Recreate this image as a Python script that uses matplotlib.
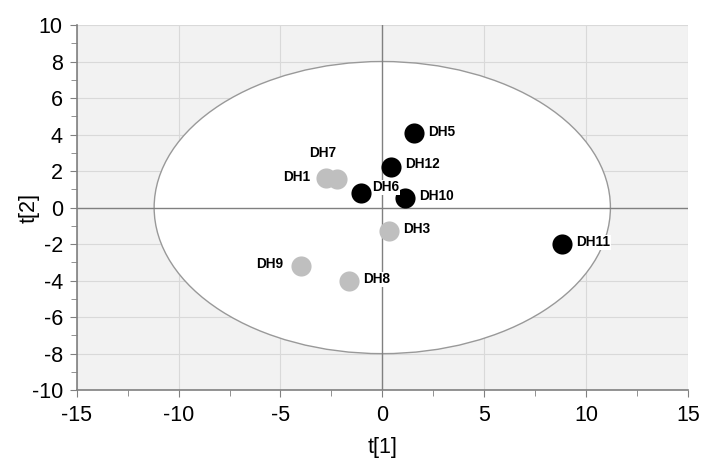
import numpy as np
import matplotlib.pyplot as plt
from matplotlib.patches import Ellipse

plt.rcParams['font.family'] = ['Liberation Sans', 'DejaVu Sans']

# scores
names = ['DH1', 'DH7', 'DH9', 'DH8', 'DH3', 'DH6', 'DH12', 'DH10', 'DH5', 'DH11']
t1 = [-2.78, -2.23, -4.0, -1.63, 0.32, -1.02, 0.45, 1.14, 1.55, 8.8]
t2 = [1.63, 1.56, -3.2, -4.04, -1.27, 0.78, 2.2, 0.5, 4.07, -2.02]
group = ['g', 'g', 'g', 'g', 'g', 'b', 'b', 'b', 'b', 'b']
# label offsets in pixels (dx, dy) and alignment
offsets = {'DH1': (-15, 1, 'right'), 'DH7': (-28, 26, 'left'), 'DH9': (-18, 2, 'right'),
           'DH8': (14, 2, 'left'), 'DH3': (14, 2, 'left'), 'DH6': (11, 6, 'left'),
           'DH12': (14, 3, 'left'), 'DH10': (14, 2, 'left'), 'DH5': (14, 1, 'left'),
           'DH11': (15, 2, 'left')}

ell_a = 11.2
ell_b = 8.0

fig = plt.figure(figsize=(7.04, 4.59), dpi=100)
ax = fig.add_axes([0.109, 0.150, 0.868, 0.7955])
ax.set_facecolor('#f2f2f2')
ax.add_patch(Ellipse((0, 0), 2 * ell_a, 2 * ell_b, facecolor='white', edgecolor='#999999', lw=1.0, zorder=1.5))

ax.set_xlim(-15, 15)
ax.set_ylim(-10, 10)
ax.set_xticks(np.arange(-15, 16, 5))
ax.set_yticks(np.arange(-10, 11, 2))
ax.set_xticks(np.arange(-15, 16, 2.5), minor=True)
ax.set_yticks(np.arange(-10, 11, 1), minor=True)
ax.grid(True, which='major', color='#d9d9d9', lw=0.8, zorder=1)
ax.set_axisbelow(True)
ax.axhline(0, color='#808080', lw=1.0, zorder=2)
ax.axvline(0, color='#808080', lw=1.0, zorder=2)

for s in ['top', 'right']:
    ax.spines[s].set_visible(False)
for s in ['left', 'bottom']:
    ax.spines[s].set_color('#808080')
    ax.spines[s].set_linewidth(1.2)
ax.tick_params(which='both', direction='out', color='#808080', labelsize=15.5)
ax.tick_params(which='major', length=5)
ax.tick_params(which='minor', length=4)
ax.tick_params(axis='y', pad=5)
ax.tick_params(axis='x', pad=6)
ax.set_xticklabels([str(v) for v in range(-15, 16, 5)])
ax.set_yticklabels([str(v) for v in range(-10, 11, 2)])

for n, x, y, g in zip(names, t1, t2, group):
    c = 'black' if g == 'b' else '#bfbfbf'
    ax.scatter(x, y, s=210, color=c, zorder=4 if g == 'b' else 3, linewidths=0)
    dx, dy, ha = offsets[n]
    ax.annotate(n, (x, y), xytext=(dx * 0.72, dy * 0.72), textcoords='offset points',
                ha=ha, va='center', fontsize=9.8, fontweight='bold', zorder=5,
                bbox=dict(facecolor='white', edgecolor='none', pad=0.5))

ax.set_xlabel('t[1]', fontsize=15.5)
ax.set_ylabel('t[2]', fontsize=15.5)
ax.xaxis.set_label_coords(0.5, -0.129)
ax.yaxis.set_label_coords(-0.061, 0.5)

fig.savefig('out.png', dpi=100)
